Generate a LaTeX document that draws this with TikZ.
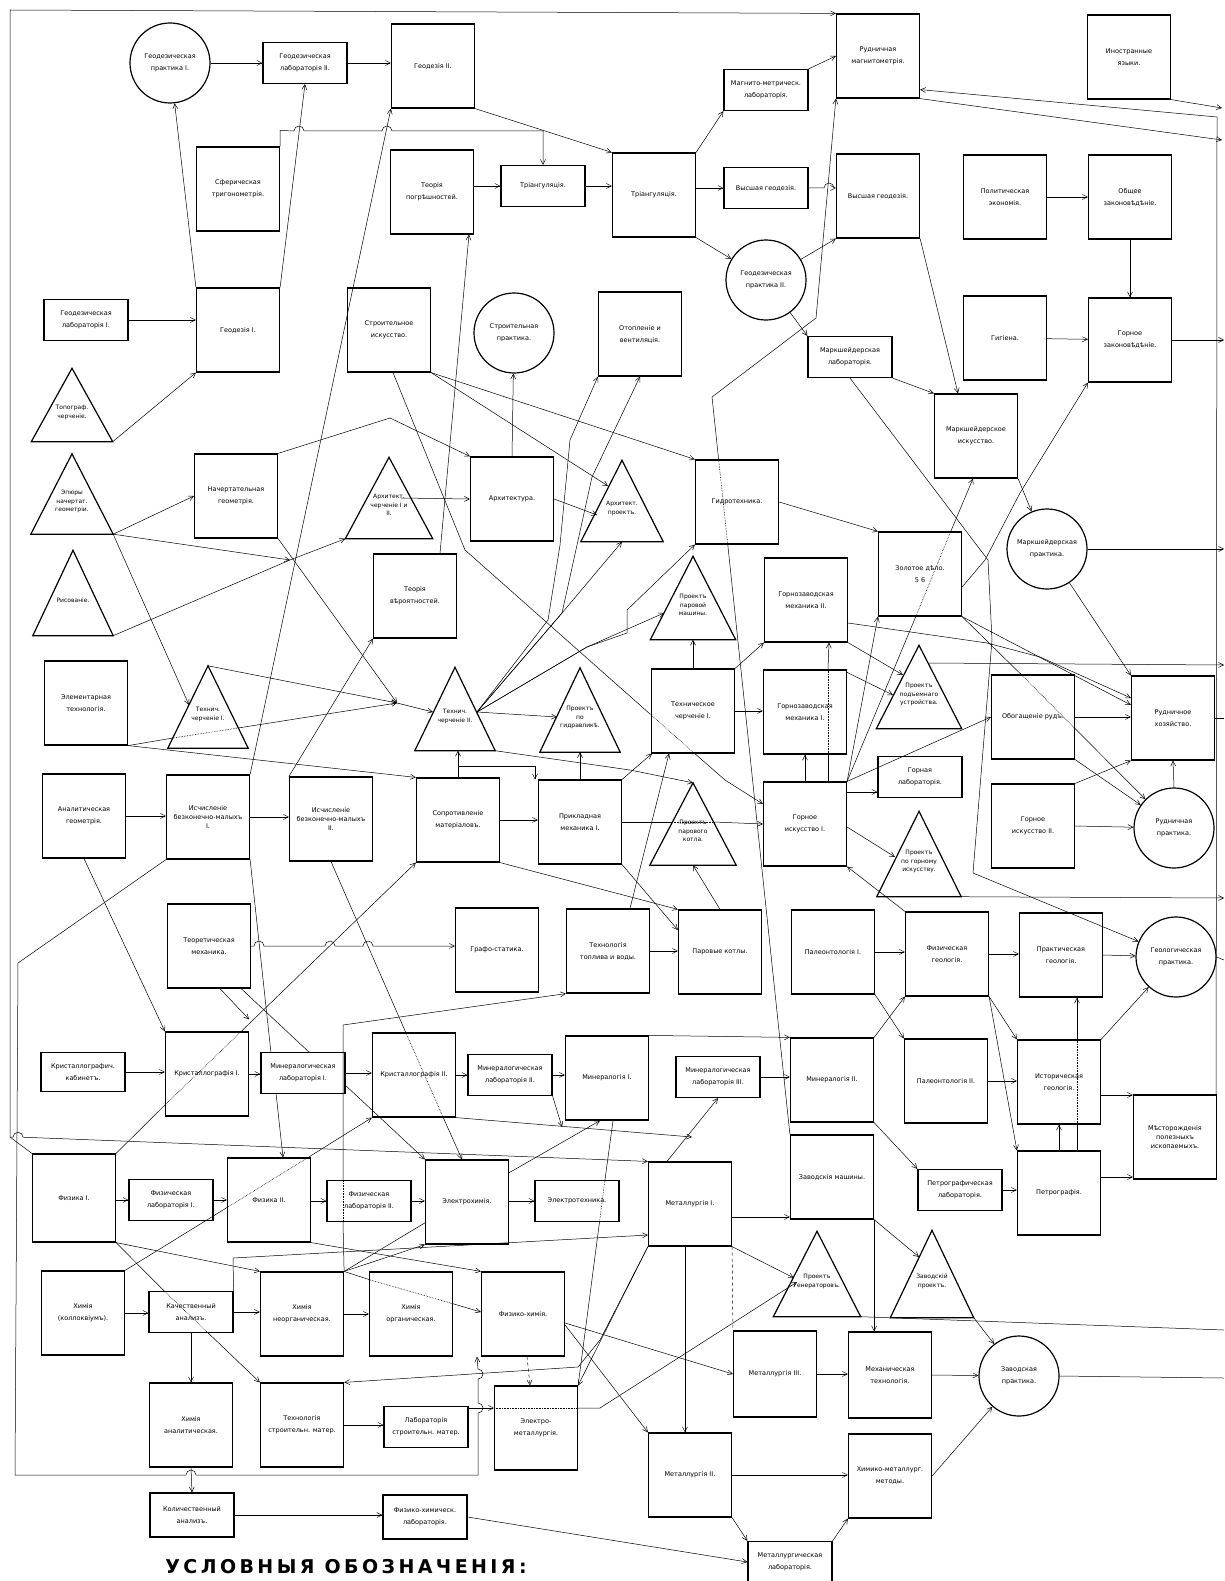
\documentclass[tikz,border=0pt]{standalone}
\usepackage{fontspec}
\setmainfont{DejaVu Sans}
\newfontfamily\headfont[LetterSpace=18]{DejaVu Sans}
\usetikzlibrary{arrows.meta}
% text of a project triangle, set low in the triangle
\newcommand{\tritext}[1]{\raisebox{-9pt}[0pt][0pt]{\fontsize{6}{8.5}\selectfont\begin{tabular}{@{}c@{}}#1\end{tabular}}}

\begin{document}
\begin{tikzpicture}[x=1pt, y=-1pt, every node/.style={font=\fontsize{6.5}{12}\selectfont}]
		% Styles
		\tikzstyle{subj_box} = [draw=black, line width=1.2pt, minimum width=83pt, minimum height=84pt, inner sep=1pt, align=center]
		\tikzstyle{lab_box} = [draw=black, line width=1.2pt, minimum width=84pt, minimum height=41pt, inner sep=1pt, align=center]
		\tikzstyle{prac_circ} = [draw=black, line width=1.2pt, circle, minimum size=80pt, inner sep=0pt, align=center]
		\tikzstyle{proj_tri} = [minimum width=82pt, minimum height=83pt, inner sep=0pt, append after command={\pgfextra{\draw[line width=1.2pt] (\tikzlastnode.north) -- (\tikzlastnode.south east) -- (\tikzlastnode.south west) -- cycle;}}]
		\tikzstyle{tight_text} = [font=\fontsize{6.5}{9}\selectfont]
		\tikzstyle{link} = [line width=0.5pt, -{Straight Barb[length=5pt,width=5pt]}]
		\tikzstyle{plain_link} = [line width=0.5pt]
		\tikzstyle{hidden_link} = [line width=0.6pt, densely dotted]

		\useasboundingbox (0,0) rectangle (1224,1581);

		% Geodesy row
		\node[prac_circ] (gpr1) at (170,63) {Геодезическая\\практика I.};
		\node[lab_box] (glab2) at (305,63) {Геодезическая\\лабораторія II.};
		\node[subj_box] (geod2) at (433,66) {Геодезія II.};
		\node[lab_box] (magl) at (766,90) {Магнито-метрическ.\\лабораторія.};
		\node[subj_box] (rmag) at (878,56) {Рудничная\\магнитометрія.};
		\node[subj_box] (inyaz) at (1129,57) {Иностранные\\языки.};

		\node[subj_box] (sphtr) at (238,189) {Сферическая\\тригонометрія.};
		\node[subj_box] (terr) at (432,192) {Теорія\\погрѣшностей.};
		\node[lab_box] (tri1) at (543,186) {Тріангуляція.};
		\node[subj_box] (tri2) at (654,195) {Тріангуляція.};
		\node[lab_box] (vgeo1) at (766,188) {Высшая геодезія.};
		\node[subj_box] (vgeo2) at (878,196) {Высшая геодезія.};
		\node[subj_box] (polek) at (1005,197) {Политическая\\экономія.};
		\node[subj_box] (obzak) at (1130,197) {Общее\\законовѣдѣніе.};
		\node[prac_circ] (gpr2) at (766,280) {Геодезическая\\практика II.};

		\node[lab_box] (glab1) at (86,320) {Геодезическая\\лабораторія I.};
		\node[subj_box] (geod1) at (238,330) {Геодезія I.};
		\node[subj_box] (stris) at (389,330) {Строительное\\искусство.};
		\node[prac_circ] (stpr) at (514,333) {Строительная\\практика.};
		\node[subj_box] (otop) at (640,334) {Отопленіе и\\вентиляція.};
		\node[lab_box] (mlab) at (850,357) {Маркшейдерская\\лабораторія.};
		\node[subj_box] (gig) at (1005,338) {Гигіена.};
		\node[subj_box] (gzak) at (1130,340) {Горное\\законовѣдѣніе.};

		% Drawing and building
		\node[proj_tri, minimum height=73pt, minimum width=81pt] (topo) at (72,405) {\tritext{Топограф.\\черченіе.}};
		\node[proj_tri, minimum height=80pt] (epur) at (72,494) {\tritext{Эпюры\\начертат.\\геометріи.}};
		\node[subj_box] (nach) at (236,496) {Начертательная\\геометрія.};
		\node[proj_tri, minimum width=87pt, minimum height=81pt] (archch) at (389,498) {\tritext{Архитект.\\черченіе I и\\II.}};
		\node[subj_box] (arch) at (512,499) {Архитектура.};
		\node[proj_tri, minimum height=81pt] (archpr) at (622,501) {\tritext{Архитект.\\проектъ.}};
		\node[subj_box] (gidro) at (737,502) {Гидротехника.};
		\node[subj_box] (mis) at (976,436) {Маркшейдерское\\искусство.};

		\node[proj_tri, minimum width=80pt, minimum height=85pt] (ris) at (73,593) {\tritext{Рисованіе.}};
		\node[subj_box] (tver) at (415,596) {Теорія\\вѣроятностей.};
		\node[proj_tri, minimum width=85pt] (ppm) at (693,598) {\tritext{Проектъ\\паровой\\машины.}};
		\node[subj_box] (gzm2) at (806,600) {Горнозаводская\\механика II.};
		\node[subj_box] (zol) at (920,574) {Золотое дѣло.\\5 6};
		\node[prac_circ] (mpr) at (1047,549) {Маркшейдерская\\практика.};

		\node[subj_box] (elt) at (86,703) {Элементарная\\технологія.};
		\node[proj_tri, minimum width=80pt, minimum height=82pt] (tch1) at (208,707) {\tritext{Технич.\\черченіе I.}};
		\node[proj_tri, minimum width=80pt] (tch2) at (455,709) {\tritext{Технич.\\черченіе II.}};
		\node[proj_tri, minimum width=80pt, minimum height=84pt] (pgid) at (580,710) {\tritext{Проектъ\\по\\гидравликѣ.}};
		\node[subj_box] (tech1) at (693,711) {Техническое\\черченіе I.};
		\node[subj_box] (gzm1) at (805,712) {Горнозаводская\\механика I.};
		\node[proj_tri, minimum width=85pt] (ppod) at (919,687) {\tritext{Проектъ\\подъемнаго\\устройства.}};
		\node[subj_box] (obog) at (1033,717) {Обогащеніе рудъ.};
		\node[subj_box] (rhoz) at (1173,718) {Рудничное\\хозяйство.};
		\node[lab_box] (glab) at (920,777) {Горная\\лабораторія.};

		% Mathematics, mechanics, mining
		\node[subj_box] (anal) at (84,816) {Аналитическая\\геометрія.};
		\node[subj_box, tight_text] (isch1) at (208,817) {Исчисленіе\\безконечно-малыхъ\\I.};
		\node[subj_box, tight_text] (isch2) at (331,819) {Исчисленіе\\безконечно-малыхъ\\II.};
		\node[subj_box] (sopr) at (458,820) {Сопротивленіе\\матеріаловъ.};
		\node[subj_box] (pmech) at (580,822) {Прикладная\\механика I.};
		\node[proj_tri, minimum width=86pt, minimum height=82pt] (pkot) at (693,824) {\tritext{Проектъ\\парового\\котла.}};
		\node[subj_box] (gis1) at (805,824) {Горное\\искусство I.};
		\node[proj_tri, minimum width=84pt, minimum height=85pt] (pgis) at (919,854) {\tritext{Проектъ\\по горному\\искусству.}};
		\node[subj_box] (gis2) at (1033,826) {Горное\\искусство II.};
		\node[prac_circ] (rpr) at (1174,828) {Рудничная\\практика.};

		\node[subj_box] (tmech) at (209,946) {Теоретическая\\механика.};
		\node[subj_box] (graf) at (497,950) {Графо-статика.};
		\node[subj_box] (ttop) at (608,951) {Технологія\\топлива и воды.};
		\node[subj_box] (pkotly) at (720,952) {Паровые котлы.};
		\node[subj_box] (pal1) at (833,952) {Палеонтологія I.};
		\node[subj_box] (fgeo) at (947,954) {Физическая\\геологія.};
		\node[subj_box] (prgeo) at (1061,955) {Практическая\\геологія.};
		\node[prac_circ] (gpr) at (1176,957) {Геологическая\\практика.};

		% Mineralogy and geology
		\node[lab_box, minimum height=39pt] (krkab) at (83,1072) {Кристаллографич.\\кабинетъ.};
		\node[subj_box] (kr1) at (207,1074) {Кристаллографія I.};
		\node[lab_box] (minl1) at (303,1073) {Минералогическая\\лабораторія I.};
		\node[subj_box] (kr2) at (414,1075) {Кристаллографія II.};
		\node[lab_box] (minl2) at (510,1075) {Минералогическая\\лабораторія II.};
		\node[subj_box] (min1) at (607,1078) {Минералогія I.};
		\node[lab_box] (minl3) at (718,1077) {Минералогическая\\лабораторія III.};
		\node[subj_box] (min2) at (832,1080) {Минералогія II.};
		\node[subj_box] (pal2) at (946,1081) {Палеонтологія II.};
		\node[subj_box] (igeo) at (1059,1082) {Историческая\\геологія.};
		\node[subj_box, tight_text] (mest) at (1175,1137) {Мѣсторожденія\\полезныхъ\\ископаемыхъ.};

		% Physics
		\node[subj_box, minimum height=88pt] (fiz1) at (74,1198) {Физика I.};
		\node[lab_box] (flab1) at (171,1200) {Физическая\\лабораторія I.};
		\node[subj_box] (fiz2) at (269,1200) {Физика II.};
		\node[lab_box] (flab2) at (369,1201) {Физическая\\лабораторія II.};
		\node[subj_box] (elch) at (467,1202) {Электрохимія.};
		\node[lab_box] (elt2) at (577,1201) {Электротехника.};
		\node[subj_box] (met1) at (690,1204) {Металлургія I.};
		\node[subj_box] (zmash) at (832,1177) {Заводскія машины.};
		\node[lab_box] (petl) at (960,1190) {Петрографическая\\лабораторія.};
		\node[subj_box] (petr) at (1059,1193) {Петрографія.};

		% Chemistry and metallurgy
		\node[subj_box] (him) at (83,1313) {Химія\\(коллоквіумъ).};
		\node[lab_box] (kach) at (191,1312) {Качественный\\анализъ.};
		\node[subj_box] (hneorg) at (302,1314) {Химія\\неорганическая.};
		\node[subj_box] (horg) at (411,1314) {Химія\\органическая.};
		\node[subj_box] (fhim) at (523,1314) {Физико-химія.};
		\node[proj_tri, minimum width=87pt, minimum height=85pt] (pgen) at (817,1274) {\tritext{Проектъ\\генераторовъ.}};
		\node[proj_tri, minimum width=83pt, minimum height=87pt] (zpr) at (932,1274) {\tritext{Заводскій\\проектъ.}};

		\node[subj_box] (hanal) at (191,1425) {Химія\\аналитическая.};
		\node[subj_box] (tstr) at (302,1425) {Технологія\\строительн. матер.};
		\node[lab_box] (lstr) at (426,1427) {Лабораторія\\строительн. матер.};
		\node[subj_box] (emet) at (536,1428) {Электро-\\металлургія.};
		\node[subj_box, minimum height=86pt] (met3) at (775,1374) {Металлургія III.};
		\node[subj_box, minimum height=86pt] (mtech) at (890,1375) {Механическая\\технологія.};
		\node[prac_circ] (zavpr) at (1019,1376) {Заводская\\практика.};
		\node[subj_box] (met2) at (690,1475) {Металлургія II.};
		\node[subj_box] (hmet) at (890,1476) {Химико-металлург.\\методы.};

		\node[lab_box, minimum height=44pt] (kolan) at (192,1515) {Количественный\\анализъ.};
		\node[lab_box, minimum height=44pt] (fhlab) at (425,1517) {Физико-химическ.\\лабораторія.};
		\node[lab_box] (metl) at (790,1562) {Металлургическая\\лабораторія.};

		% Legend heading
		\node[font=\headfont\bfseries\fontsize{19}{21}\selectfont] (legend) at (346,1567) {УСЛОВНЫЯ ОБОЗНАЧЕНІЯ:};

		% Junctions and free ends
		\coordinate (lcorner) at (10,1137);
		\coordinate (xhop) at (290,560);
		\coordinate (thub) at (397,703);
		\coordinate (t2r) at ([xshift=22pt,yshift=-3pt]tch2.center);
		\coordinate (mdrop) at (562,1127);
		\coordinate (kr2drop) at (692,1137);
		\coordinate (ex_gzak) at (1224,340);
		\coordinate (ex_inyaz) at (1222,108);
		\coordinate (ex_rmag) at (1222,140);
		\coordinate (ex_mpr) at (1224,549);
		\coordinate (ex_ppod) at (1224,665);
		\coordinate (ex_rhoz) at (1224,718);
		\coordinate (ex_pgis) at (1224,898);
		\coordinate (ex_gpr) at (1224,960);
		\coordinate (ex_pgen) at (1224,1330);
		\coordinate (ex_zav) at (1224,1378);
		\coordinate (glabin) at ([yshift=-15pt]glab.west);
		\coordinate (lstrout) at ([yshift=19pt]lstr.east);
		\coordinate (met1out) at ([yshift=-13pt]met1.east);
		\coordinate (petrout) at ([yshift=16pt]petr.east);
		\coordinate (igeoout) at ([yshift=-13pt]igeo.east);
		\coordinate (igeotop) at ([xshift=18pt]igeo.north);

		% Geodesy links
		\draw[link] (gpr1) -- (glab2);
		\draw[link] (glab2.east) -- (glab2.east -| geod2.west);
		\draw[link] (geod2.south east) -- (tri2.north west);
		\draw[link] (sphtr.north east) -- ++(0,-16) -- (294,131) arc (180:360:5) -- (382,131) arc (180:360:5) -| (tri1.north);
		\draw[link] (geod1.north west) -- (gpr1);
		\draw[link] (geod1.north east) -- (glab2.south);
		\draw[link] (glab1.east) -- (glab1.east -| geod1.west);
		\draw[link] (topo.south east) -- (geod1.south west);
		\draw[link] (isch1.north east) -- (geod2.south west);
		\draw[link] (tri1.west -| terr.east) -- (tri1.west);
		\draw[link] (tri1.east) -- (tri1.east -| tri2.west);
		\draw[link] (tri2.north east) -- (magl.south west);
		\draw[link] (vgeo1.west -| tri2.east) -- (vgeo1.west);
		\draw[link] (tri2.south east) -- (gpr2);
		\draw[link] (vgeo1.east) -- (824,188) arc (180:360:5) -- (vgeo1.east -| vgeo2.west);
		\draw[link] (magl.north east) -- (rmag.west);
		\draw[link] (gpr2) -- (vgeo2.south west);
		\draw[link] (vgeo2.south east) -- ([xshift=-18pt]mis.north);
		\draw[link] (mlab.south east) -- (mis.north west);
		\draw[link] (gpr2) -- (mlab.north west);
		\draw[link] (polek) -- (obzak);
		\draw[link] (obzak) -- (gzak);
		\draw[link] (gig) -- (gzak);
		\draw[link] (gzak.east) -- (ex_gzak);
		\draw[link] (inyaz.south east) -- (ex_inyaz);
		\draw[link] (rmag.south east) -- (ex_rmag);
		\draw[link] ([xshift=-1pt]mest.north east) -- (1217,117) -- ([yshift=9pt]rmag.south east);
		\draw[link] (fiz1.north west) -- (lcorner) -- (10,10) -- (rmag.north west);
		\draw[link] (lcorner) -- (13,1137.2) arc (180:360:5) -- (met1.north west);
		\draw[plain_link] (zmash.north west) -- (727.6,543);
		\draw[hidden_link] (727.6,543) -- (718.8,461);
		\draw[link] (718.8,461) -- (712,397) -- (816,318) -- (rmag.south west);

		% Drawing links
		\draw[link] (epur.south east) -- (nach.west);
		\draw[link] (epur.south east) -- (xhop);
		\draw[link] (ris.south east) -- (xhop) -- (archch.south west);
		\draw[link] (epur.south east) -- ([xshift=-19pt,yshift=2pt]tch1.center);
		\draw[link] (nach.north east) -- (390,418) -- (arch.north west);
		\draw[link] (nach.south east) -- (thub);
		\draw[link] (tch1.north) -- (thub);
		\draw[plain_link] (elt.south east) -- (173,738);
		\draw[hidden_link] (173,738) -- (238,728);
		\draw[link] (238,728) -- (thub);
		\draw[link] (thub) -- ([xshift=-22pt,yshift=-3pt]tch2.center);
		\draw[link] (elt.south east) -- (sopr.north west);
		\draw[link] ([xshift=12pt]archch.center) -- (arch.west);
		\draw[link] (arch.north) -- (stpr);
		\draw[link] (arch.east) -- ([xshift=-25pt,yshift=-14pt]archpr.center);
		\draw[link] (stris.south east) -- ([xshift=-14pt,yshift=15pt]archpr.center);
		\draw[link] (stris.south east) -- (gidro.north west);
		\draw[plain_link] ([xshift=4pt]stris.south) -- (465,550) -- (650,714);
		\draw[hidden_link] (650,714) -- (693,752);
		\draw[link] (693,752) -- (725,780) -- ([yshift=20pt]gis1.west);
		\draw[link] ([xshift=25pt]tver.north) -- ([xshift=37pt]terr.south);
		\draw[link] (isch2.north west) -- (tver.south west);
		\draw[link] (t2r) -- (548,620) -- (560,545) -- (570,440) -- (otop.south west);
		\draw[link] (t2r) -- (562,613) -- (592,477) -- (otop.south);
		\draw[link] (t2r) -- (562,613) -- (archpr.south);
		\draw[link] (t2r) -- (587,647) -- ([xshift=-29pt,yshift=-15pt]ppm.center);
		\draw[link] (t2r) -- (587,647) -- (627,633) -- (627,610) -- (gidro.south west);
		\draw[link] (t2r) -- ([xshift=-23pt,yshift=-7pt]pgid.center);
		\draw[link] (tch2.south east) -- (630,770) -- (pkot.north);

		% Mechanics links
		\draw[link] (sopr.north) -- (sopr.north |- tch2.south);
		\draw[link] ([yshift=11pt]sopr.north) -| ([xshift=-45pt]pmech.north);
		\draw[link] (pmech.north) -- (pmech.north |- pgid.south);
		\draw[link] (tech1.north) -- (ppm.south);
		\draw[link] (tech1.east) -- (tech1.east -| gzm1.west);
		\draw[link] (tech1.north east) -- (gzm2.south west);
		\draw[link] ([xshift=22pt]ttop.north) -- ([xshift=-24pt]tech1.south);
		\draw[link] (pmech.north east) -- ([xshift=-41pt]tech1.south);
		\draw[link] (sopr.east) -- (sopr.east -| pmech.west);
		\draw[link] (sopr.south east) -- (pkotly.north west);
		\draw[link] (pmech.south east) -- ([yshift=22pt]pkotly.west);
		\draw[plain_link] (pmech.east) -- (672,822);
		\draw[hidden_link] (672,822) -- (714,822);
		\draw[link] (714,822) -- (gis1.west);
		\draw[link] (ttop.east) -- (ttop.east -| pkotly.west);
		\draw[link] (pkotly.north) -- (pkot.south);
		\draw[link] (tmech.east) -- (254,946) arc (180:360:5) -- (325,946) arc (180:360:5) -- (363,946) arc (180:360:5) -- (tmech.east -| graf.west);
		\draw[link] ([xshift=11pt]tmech.south) -- ([yshift=12pt]kr1.north east);
		\draw[plain_link] ([xshift=-10pt]tmech.south east) -- (310,1053);
		\draw[link] (344,1084) -- (elch.north west);

		% Mining links
		\draw[link] (gis1.north) -- (gzm1.south);
		\draw[plain_link] ([xshift=23pt]gis1.north) -- ([xshift=23pt]gzm1.south);
		\draw[hidden_link] ([xshift=23pt]gzm1.south) -- ([xshift=23pt]gzm1.north);
		\draw[link] ([xshift=23pt]gzm1.north) -- ([xshift=23pt]gzm2.south);
		\draw[link] (gis1.north east) -- (zol.south west);
		\draw[plain_link] (gis1.north east) -- (916,616);
		\draw[hidden_link] (916,616) -- (950.5,532);
		\draw[link] (950.5,532) -- ([xshift=-3pt]mis.south);
		\draw[link] (gis1.north east) -- (obog.west);
		\draw[link] (glabin -| gis1.east) -- (glabin);
		\draw[link] ([yshift=-3pt]gis1.east) -- ([xshift=-24pt,yshift=-3pt]pgis.center);
		\draw[link] (fgeo.north west) -- (gis1.south east);
		\draw[link] (pgis.south east) -- (ex_pgis);
		\draw[link] (gidro.east) -- (zol.north west);
		\draw[link] (mlab.south) -- (988,560) -- (992,640) -- (973,873) -- (gpr);
		\draw[link] (mis.south east) -- (mpr);
		\draw[link] (mpr) -- (rhoz.north west);
		\draw[link] (mpr.east) -- (ex_mpr);
		\draw[link] ([yshift=-13pt]zol.east) -- (985,560) -- (1020,493) -- (gzak.south west);
		\draw[link] ([yshift=-23pt]gzm2.east) -- (987,643) -- (1040,657) -- ([yshift=20pt]rhoz.west);
		\draw[link] (gzm2.south east) -- ([xshift=-16pt,yshift=12pt]ppod.center);
		\draw[link] ([yshift=-3pt]gzm1.north east) -- ([xshift=-26pt,yshift=-8pt]ppod.center);
		\draw[link] (zol.south east) -- ([yshift=13pt]rhoz.west);
		\draw[plain_link] (zol.south east) -- (1022.7,676);
		\draw[hidden_link] (1022.7,676) -- (1075,728.5);
		\draw[link] (1075,728.5) -- (rpr);
		\draw[link] (obog.east) -- (obog.east -| rhoz.west);
		\draw[link] (obog.south east) -- (rpr);
		\draw[link] (gis2.north east) -- (rhoz.south west);
		\draw[link] (gis2.east) -- (rpr);
		\draw[link] (rpr.north) -- (rhoz.south);
		\draw[link] ([xshift=9pt,yshift=24pt]ppod.center) -- (ex_ppod);
		\draw[plain_link] (rhoz.east) -- (ex_rhoz);

		% Geology links
		\draw[link] (pal1.east) -- (pal1.east -| fgeo.west);
		\draw[link] (fgeo.east) -- (fgeo.east -| prgeo.west);
		\draw[link] (prgeo.east) -- (gpr);
		\draw[plain_link] (gpr.east) -- (ex_gpr);
		\draw[link] (igeotop) -- (igeotop |- prgeo.south);
		\draw[link] (igeo.north east) -- (gpr);
		\draw[link] (igeoout) -- (igeoout -| mest.west);
		\draw[link] (fgeo.south east) -- (igeo.north west);
		\draw[link] (fgeo.south east) -- (petr.north west);
		\draw[link] (pal2.east) -- (pal2.east -| igeo.west);
		\draw[link] (pal1.south east) -- (pal2.north west);
		\draw[link] (min2.north east) -- (fgeo.south west);
		\draw[link] (min2.south east) -- (petl.north west);
		\draw[link] (petl.east) -- (petl.east -| petr.west);
		\draw[link] (petr.north) -- (igeo.south);
		\draw[link] (petrout) -- (petrout -| mest.west);
		\draw[plain_link] ([xshift=18pt]petr.north) -- ([xshift=18pt]igeo.south);
		\draw[hidden_link] ([xshift=18pt]igeo.south) -- (igeotop);

		% Mineralogy links
		\draw[link] (krkab.east) -- (krkab.east -| kr1.west);
		\draw[link] (kr1.east) -- (kr1.east -| minl1.west);
		\draw[link] (minl1.east) -- (minl1.east -| kr2.west);
		\draw[link] (kr2.east) -- (kr2.east -| minl2.west);
		\draw[link] (minl2.east) -- (minl2.east -| min1.west);
		\draw[link] (minl2.south east) -- (mdrop);
		\draw[link] (kr2.south east) -- (kr2drop);
		\draw[link] (min1.north east) -- (min2.north west);
		\draw[link] (minl3.east) -- (minl3.east -| min2.west);
		\draw[link] ([xshift=-23pt]met1.north) -- (minl3.south);
		\draw[link] (anal.south) -- (kr1.north west);
		\draw[link] (anal.east) -- (anal.east -| isch1.west);
		\draw[link] (isch1.east) -- (isch1.east -| isch2.west);
		\draw[link] (isch1.south west) -- (18,963) -- (15,1475) -- (186,1475) arc (180:360:5) -- (478,1475) -- (478,1413) arc (90:-90:5) -- (478,1379) arc (90:-90:5) -- ([xshift=-4pt]fhim.south west);
		\draw[plain_link] (isch1.south east) -- (271,1053);
		\draw[link] (276,1093) -- ([xshift=14pt]fiz2.north);
		\draw[plain_link] (isch2.south) -- (406,1033);
		\draw[hidden_link] (406,1033) -- (443,1117);
		\draw[link] (443,1117) -- ([xshift=-5pt]elch.north);
		\draw[plain_link] (fiz1.north east) -- (166,1103.9);
		\draw[hidden_link] (166,1103.9) -- (240.6,1032);
		\draw[link] (240.6,1032) -- (sopr.south west);

		% Physics and chemistry links
		\draw[link] (flab1.west -| fiz1.east) -- (flab1.west);
		\draw[link] (flab1.east) -- (flab1.east -| fiz2.west);
		\draw[link] (flab2.west -| fiz2.east) -- (flab2.west);
		\draw[link] (flab2.east) -- (flab2.east -| elch.west);
		\draw[link] (elt2.west -| elch.east) -- (elt2.west);
		\draw[link] (fiz1.south east) -- (hneorg.north west);
		\draw[plain_link] (fiz1.south east) -- (164.7,1291.5);
		\draw[hidden_link] (164.7,1291.5) -- (208.2,1333);
		\draw[link] (208.2,1333) -- (tstr.north west);
		\draw[link] (fiz2.south east) -- (fhim.north west);
		\draw[plain_link] (him.north east) -- (228.5,1206.6);
		\draw[hidden_link] (228.5,1206.6) -- (308.8,1157);
		\draw[link] (308.8,1157) -- (kr2.south west);
		\draw[plain_link] (hneorg.north east) -- (343,1222);
		\draw[hidden_link] (343,1222) -- (343,1181);
		\draw[link] (343,1181) -- (343,1025) -- (ttop.south west);
		\draw[link] (hneorg.north east) -- (elch.south west);
		\draw[plain_link] (hneorg.north east) -- (426,1222.2);
		\draw[link] (509,1172.8) -- ([xshift=-7pt]min1.south);
		\draw[plain_link] (hneorg.north east) -- (370.5,1280);
		\draw[hidden_link] (370.5,1280) -- (451.5,1303.3);
		\draw[link] (451.5,1303.3) -- ([yshift=2pt]fhim.west);
		\draw[link] (kach.north east) -- (233,1258) -- ([yshift=-31pt]met1.west);
		\draw[link] (him.east) -- (him.east -| kach.west);
		\draw[link] (kach.east) -- (kach.east -| hneorg.west);
		\draw[link] (kach.south) -- (hanal.north);
		\draw[link] (hanal.south) -- (kolan.north);
		\draw[link] (kolan.east) -- (kolan.east -| fhlab.west);
		\draw[link] (hneorg.east) -- (hneorg.east -| horg.west);
		\draw[link] (tstr.east) -- (tstr.east -| lstr.west);
		\draw[link] (lstrout) -- (lstrout -| emet.west);
		\draw[hidden_link] (lstrout -| emet.west) -- (lstrout -| emet.east);
		\draw[link] (lstrout -| emet.east) -- (600,1408) -- ([xshift=-20pt,yshift=-8pt]pgen.center);
		\draw[link, dashed] ([xshift=4pt]fhim.south) -- ([xshift=-6pt]emet.north);
		\draw[plain_link] ([xshift=6pt]min1.south) -- (604.8,1181);
		\draw[hidden_link] (604.8,1181) -- (599.5,1222);
		\draw[plain_link] (599.5,1222) -- (emet.north east);

		% Metallurgy links
		\draw[link] ([yshift=-9pt]fhim.east) -- (met3.west);
		\draw[link] ([yshift=-11pt]fhim.east) -- (met2.north west);
		\draw[link] (met1.south west) -- (emet.north east);
		\draw[link] (met1.south west) -- (600,1340) -- (578,1367) -- (tstr.north east);
		\draw[link] ([xshift=-5pt]met1.south) -- ([xshift=-5pt]met2.north);
		\draw[plain_link, dashed] (met1.south east) -- (met3.north west);
		\draw[link] (met1.south east) -- ([xshift=-23pt,yshift=-4pt]pgen.center);
		\draw[link] (met1out) -- (met1out -| zmash.west);
		\draw[link] (zmash.south east) -- ([xshift=-13pt,yshift=17pt]zpr.center);
		\draw[link] (zmash.south east) -- (zmash.south east |- mtech.north);
		\draw[plain_link] (pgen.south east) -- (ex_pgen);
		\draw[link] (zpr.south east) -- (zavpr);
		\draw[link] (mtech.east) -- (zavpr);
		\draw[link] (hmet.east) -- (zavpr);
		\draw[link] (met3.east) -- (met3.east -| mtech.west);
		\draw[link] (met2.east) -- (met2.east -| hmet.west);
		\draw[link] (met2.south east) -- (metl.north west);
		\draw[link] (metl.north east) -- (hmet.south west);
		\draw[link] (fhlab.east) -- (metl.west);
		\draw[plain_link] (zavpr.east) -- (ex_zav);

	\end{tikzpicture}
\end{document}
